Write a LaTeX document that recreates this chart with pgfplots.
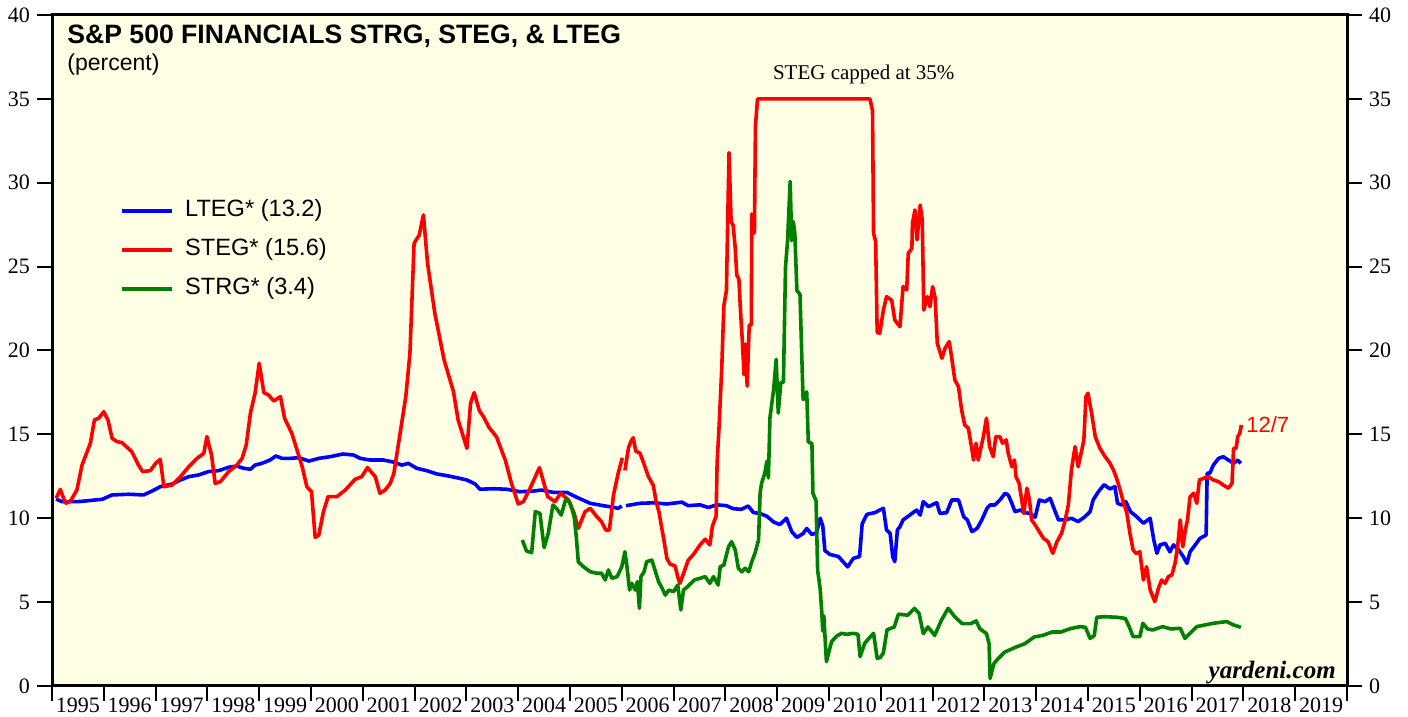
\documentclass[border=0pt]{standalone}
\usepackage{fontspec}
\setmainfont{Liberation Serif}
\setsansfont{Liberation Sans}
\usepackage{pgfplots}
\pgfplotsset{compat=1.18}
\definecolor{bgy}{RGB}{255,255,230}
\definecolor{lteg}{RGB}{0,0,255}
\definecolor{steg}{RGB}{255,0,0}
\definecolor{strg}{RGB}{0,128,0}
\begin{document}
\begin{tikzpicture}
\begin{axis}[
  scale only axis, width=647.5pt, height=335.5pt,
  xmin=1995, xmax=2020, ymin=0, ymax=40,
  axis background/.style={fill=bgy},
  axis line style={line width=1.5pt},
  tick align=outside, major tick length=7.5pt,
  tick style={black, line width=1pt},
  xtick={1995,1996,...,2020}, xticklabels={},
  xtick pos=bottom, ytick pos=left,
  ytick={0,5,...,40},
  /pgf/number format/assume math mode=true,
  tick label style={font=\fontsize{11}{13}\selectfont},
  xticklabel style={yshift=-2.5pt},
  extra x ticks={1995.5,1996.5,1997.5,1998.5,1999.5,2000.5,2001.5,2002.5,2003.5,2004.5,2005.5,2006.5,2007.5,2008.5,2009.5,2010.5,2011.5,2012.5,2013.5,2014.5,2015.5,2016.5,2017.5,2018.5,2019.5},
  extra x tick labels={1995,1996,1997,1998,1999,2000,2001,2002,2003,2004,2005,2006,2007,2008,2009,2010,2011,2012,2013,2014,2015,2016,2017,2018,2019},
  extra x tick style={major tick length=0pt, tick style={draw=none}},
  unbounded coords=jump,
  every axis plot/.append style={line width=1.8pt, line join=round},
  legend style={at={(rel axis cs:0.048,0.731)}, anchor=north west, draw=none, fill=none,
    font=\sffamily\fontsize{11.8}{13}\selectfont, row sep=8.5pt, column sep=5.5pt,
    nodes={inner sep=0pt, text height=8.5pt, text depth=2.5pt}},
  legend cell align=left,
  legend image code/.code={\draw[#1] (0pt,0pt) -- (25pt,0pt);},
]
% LTEG
\addplot[lteg] coordinates {
(1995.08,11.15) (1995.19,10.99) (1995.51,10.99) (1995.97,11.13) (1996.16,11.39) (1996.48,11.43)
(1996.77,11.39) (1996.93,11.62) (1997.09,11.88) (1997.32,12.04) (1997.48,12.28) (1997.64,12.48)
(1997.83,12.58) (1998.02,12.78) (1998.22,12.84) (1998.41,13.04) (1998.57,13.11) (1998.70,12.98)
(1998.83,12.92) (1998.92,13.17) (1999.05,13.27) (1999.21,13.47) (1999.32,13.71) (1999.44,13.57)
(1999.60,13.57) (1999.76,13.61) (1999.96,13.41) (2000.15,13.57) (2000.37,13.67) (2000.62,13.83)
(2000.82,13.77) (2000.95,13.57) (2001.14,13.47) (2001.40,13.47) (2001.62,13.33) (2001.75,13.17)
(2001.88,13.27) (2002.04,12.98) (2002.23,12.84) (2002.43,12.64) (2002.62,12.54) (2002.81,12.42)
(2003.01,12.28) (2003.17,12.04) (2003.26,11.73) (2003.52,11.76) (2003.78,11.73) (2004.03,11.58)
(2004.29,11.62) (2004.45,11.68) (2004.68,11.54) (2004.94,11.54) (2005.13,11.25) (2005.39,10.89)
(2005.64,10.75) (2005.84,10.65) (2005.93,10.59) (2006.00,10.73) (2006.04,nan)
(2006.08,10.75) (2006.16,10.79) (2006.35,10.89) (2006.61,10.92) (2006.87,10.85) (2007.16,10.96)
(2007.28,10.75) (2007.51,10.80) (2007.67,10.64) (2007.83,10.80) (2008.02,10.75) (2008.15,10.57)
(2008.31,10.53) (2008.44,10.73) (2008.54,10.34) (2008.67,10.28) (2008.80,10.12) (2008.93,9.78)
(2009.05,9.62) (2009.18,10.00) (2009.28,9.20) (2009.38,8.86) (2009.50,9.09) (2009.57,9.39)
(2009.67,9.03) (2009.76,9.14) (2009.83,10.00) (2009.88,9.55) (2009.92,8.07) (2010.02,7.84)
(2010.18,7.72) (2010.28,7.38) (2010.36,7.10) (2010.47,7.61) (2010.59,7.72) (2010.64,9.66)
(2010.73,10.23) (2010.89,10.34) (2010.98,10.49) (2011.05,10.59) (2011.11,9.30) (2011.18,9.10)
(2011.23,7.71) (2011.27,7.41) (2011.32,9.30) (2011.37,9.50) (2011.43,9.90) (2011.56,10.19)
(2011.69,10.49) (2011.76,10.19) (2011.82,10.99) (2011.92,10.69) (2012.08,10.93) (2012.14,10.29)
(2012.27,10.33) (2012.37,11.09) (2012.50,11.09) (2012.60,10.09) (2012.67,9.90) (2012.76,9.20)
(2012.86,9.40) (2012.95,9.90) (2013.05,10.59) (2013.11,10.79) (2013.20,10.79) (2013.30,11.09)
(2013.40,11.49) (2013.46,11.39) (2013.53,10.89) (2013.59,10.39) (2013.69,10.49) (2013.78,10.33)
(2013.88,10.29) (2013.98,10.06) (2014.06,11.09) (2014.17,10.99) (2014.27,11.19) (2014.33,10.69)
(2014.43,9.90) (2014.56,9.90) (2014.68,10.00) (2014.81,9.80) (2014.94,10.09) (2015.04,10.39)
(2015.10,11.10) (2015.20,11.58) (2015.31,12.00) (2015.42,11.75) (2015.52,11.88) (2015.57,10.89)
(2015.65,10.79) (2015.73,10.99) (2015.82,10.39) (2015.93,10.12) (2016.07,9.70) (2016.20,10.00)
(2016.27,8.70) (2016.33,7.91) (2016.39,8.41) (2016.49,8.51) (2016.58,8.00) (2016.65,8.41)
(2016.75,8.11) (2016.84,7.71) (2016.91,7.31) (2016.97,8.00) (2017.07,8.41) (2017.16,8.80)
(2017.28,9.00) (2017.30,12.68) (2017.35,12.68) (2017.42,13.17) (2017.52,13.57) (2017.61,13.67)
(2017.71,13.47) (2017.81,13.27) (2017.89,13.47) (2017.95,13.27)
};
\addlegendentry{LTEG* (13.2)}
% STEG
\addplot[steg] coordinates {
(1995.08,11.19) (1995.16,11.72) (1995.26,10.89) (1995.35,10.99) (1995.48,11.68) (1995.58,13.17)
(1995.74,14.47) (1995.82,15.86) (1995.90,15.96) (1996.00,16.35) (1996.08,15.86) (1996.16,14.77)
(1996.25,14.57) (1996.35,14.51) (1996.54,13.97) (1996.67,13.17) (1996.75,12.78) (1996.90,12.84)
(1997.00,13.27) (1997.09,13.51) (1997.16,11.88) (1997.32,11.98) (1997.48,12.48) (1997.64,13.07)
(1997.80,13.57) (1997.93,13.87) (1997.99,14.86) (1998.08,13.77) (1998.15,12.08) (1998.25,12.18)
(1998.41,12.78) (1998.57,13.17) (1998.67,13.57) (1998.75,14.37) (1998.83,16.26) (1998.92,17.45)
(1999.00,19.24) (1999.09,17.49) (1999.18,17.35) (1999.28,16.99) (1999.41,17.25) (1999.49,15.96)
(1999.63,15.06) (1999.73,14.07) (1999.83,13.07) (1999.92,11.88) (2000.01,11.58) (2000.08,8.86)
(2000.15,9.00) (2000.24,10.39) (2000.33,11.29) (2000.50,11.29) (2000.66,11.68) (2000.85,12.32)
(2000.98,12.48) (2001.09,13.02) (2001.24,12.48) (2001.33,11.49) (2001.43,11.68) (2001.53,12.08)
(2001.60,12.68) (2001.72,15.06) (2001.83,17.25) (2001.91,19.83) (2001.99,26.39) (2002.09,26.88)
(2002.17,28.08) (2002.25,25.20) (2002.39,22.22) (2002.57,19.43) (2002.75,17.55) (2002.84,15.86)
(2003.01,14.17) (2003.08,16.85) (2003.15,17.49) (2003.25,16.41) (2003.33,16.05) (2003.44,15.40)
(2003.58,14.86) (2003.75,13.47) (2003.87,12.08) (2004.00,10.85) (2004.10,10.99) (2004.23,11.79)
(2004.41,13.02) (2004.57,11.29) (2004.71,10.99) (2004.82,11.49) (2004.97,11.09) (2005.08,10.29)
(2005.16,9.40) (2005.29,10.39) (2005.39,10.59) (2005.52,10.09) (2005.61,9.79) (2005.69,9.30)
(2005.76,9.30) (2005.84,11.39) (2005.93,12.68) (2006.01,13.60) (2006.035,nan)
(2006.06,12.85) (2006.13,14.22) (2006.18,14.60) (2006.22,14.80) (2006.27,14.00) (2006.35,13.88)
(2006.42,13.31) (2006.51,12.51) (2006.61,11.94) (2006.66,11.03) (2006.72,10.34) (2006.77,9.43)
(2006.81,8.75) (2006.87,7.61) (2006.93,7.27) (2007.03,7.15) (2007.08,6.50) (2007.12,6.12)
(2007.19,6.69) (2007.28,7.49) (2007.38,7.83) (2007.51,8.41) (2007.61,8.75) (2007.70,8.41)
(2007.75,9.54) (2007.82,10.12) (2007.84,13.31) (2007.88,15.60) (2007.93,19.00) (2007.97,22.67)
(2008.02,23.58) (2008.04,27.00) (2008.07,31.79) (2008.11,27.68) (2008.15,27.46) (2008.19,26.09)
(2008.22,24.49) (2008.26,24.26) (2008.29,22.44) (2008.33,20.39) (2008.36,18.56) (2008.39,20.39)
(2008.42,17.87) (2008.46,21.52) (2008.50,21.52) (2008.51,28.14) (2008.56,27.00) (2008.58,33.39)
(2008.62,35.00) (2010.79,35.00) (2010.84,34.30) (2010.86,27.00) (2010.90,26.50) (2010.93,21.07)
(2010.98,21.03) (2011.05,22.41) (2011.11,23.21) (2011.21,23.00) (2011.27,21.82) (2011.37,21.42)
(2011.43,23.81) (2011.50,23.61) (2011.53,25.79) (2011.60,26.09) (2011.61,27.58) (2011.66,28.38)
(2011.70,26.59) (2011.76,28.67) (2011.80,27.78) (2011.83,22.41) (2011.90,23.21) (2011.95,22.61)
(2012.00,23.81) (2012.05,23.11) (2012.09,20.43) (2012.18,19.54) (2012.24,20.13) (2012.32,20.53)
(2012.37,19.54) (2012.43,18.24) (2012.50,17.84) (2012.56,16.45) (2012.62,15.56) (2012.69,15.36)
(2012.75,14.27) (2012.79,13.47) (2012.84,14.47) (2012.88,13.47) (2012.98,14.86) (2013.04,15.96)
(2013.10,14.27) (2013.17,13.67) (2013.22,14.86) (2013.30,14.86) (2013.35,14.47) (2013.42,14.67)
(2013.46,13.87) (2013.53,13.07) (2013.58,13.47) (2013.61,12.48) (2013.67,12.08) (2013.72,11.09)
(2013.76,10.29) (2013.82,11.79) (2013.87,11.09) (2013.91,9.90) (2013.98,9.60) (2014.06,9.20)
(2014.14,8.80) (2014.23,8.60) (2014.32,7.91) (2014.40,8.60) (2014.49,9.10) (2014.56,9.90)
(2014.62,10.79) (2014.68,12.88) (2014.75,14.27) (2014.81,13.07) (2014.88,14.07) (2014.92,14.67)
(2014.96,17.25) (2015.00,17.45) (2015.07,16.26) (2015.14,14.86) (2015.23,14.17) (2015.33,13.67)
(2015.42,13.30) (2015.49,12.88) (2015.55,12.40) (2015.62,11.68) (2015.68,10.99) (2015.75,10.30)
(2015.81,9.10) (2015.87,8.11) (2015.93,7.90) (2016.00,8.00) (2016.07,6.32) (2016.13,7.11)
(2016.20,5.72) (2016.29,5.03) (2016.36,5.82) (2016.42,6.32) (2016.49,6.12) (2016.55,6.52)
(2016.62,6.62) (2016.68,7.31) (2016.73,8.30) (2016.78,9.90) (2016.83,8.30) (2016.88,9.30)
(2016.92,9.90) (2016.97,11.28) (2017.04,11.49) (2017.10,10.89) (2017.15,12.28) (2017.23,12.38)
(2017.32,12.48) (2017.42,12.28) (2017.52,12.18) (2017.61,11.98) (2017.71,11.79) (2017.78,12.08)
(2017.81,14.17) (2017.86,14.17) (2017.89,14.86) (2017.93,15.06) (2017.96,15.56)
};
\addlegendentry{STEG* (15.6)}
% STRG
\addplot[strg] coordinates {
(2004.08,8.70) (2004.16,8.05) (2004.26,7.95) (2004.33,10.39) (2004.42,10.29) (2004.50,8.25)
(2004.58,9.10) (2004.67,10.79) (2004.74,10.59) (2004.83,10.19) (2004.92,11.15) (2005.00,10.92)
(2005.08,10.10) (2005.12,8.95) (2005.16,7.40) (2005.26,7.11) (2005.39,6.81) (2005.52,6.72)
(2005.61,6.72) (2005.68,6.32) (2005.74,6.92) (2005.81,6.42) (2005.91,6.52) (2006.00,7.11)
(2006.06,8.00) (2006.10,7.11) (2006.15,5.72) (2006.19,6.12) (2006.26,5.72) (2006.30,6.22)
(2006.34,4.63) (2006.37,6.52) (2006.43,6.81) (2006.48,7.41) (2006.58,7.51) (2006.65,6.81)
(2006.71,6.22) (2006.78,5.82) (2006.84,5.42) (2006.91,5.72) (2007.00,5.62) (2007.08,6.02)
(2007.14,4.53) (2007.19,5.72) (2007.27,5.92) (2007.40,6.32) (2007.51,6.42) (2007.61,6.52)
(2007.70,6.12) (2007.77,6.52) (2007.86,6.02) (2007.90,7.11) (2007.97,7.21) (2008.06,8.30)
(2008.12,8.60) (2008.19,8.11) (2008.25,7.02) (2008.32,6.81) (2008.38,7.02) (2008.45,6.81)
(2008.51,7.41) (2008.57,7.91) (2008.64,8.70) (2008.67,11.50) (2008.70,12.10) (2008.76,12.68)
(2008.80,13.40) (2008.83,12.40) (2008.86,16.00) (2008.93,17.65) (2008.98,19.47) (2009.02,16.27)
(2009.07,18.10) (2009.12,18.10) (2009.16,24.95) (2009.20,26.55) (2009.25,30.08) (2009.28,26.55)
(2009.31,27.68) (2009.34,27.00) (2009.38,23.58) (2009.44,23.35) (2009.47,20.15) (2009.50,17.07)
(2009.57,17.53) (2009.60,14.56) (2009.67,14.45) (2009.69,11.49) (2009.75,11.03) (2009.78,6.92)
(2009.83,5.78) (2009.86,4.41) (2009.88,3.27) (2009.90,4.18) (2009.95,1.45) (2010.00,2.05)
(2010.05,2.65) (2010.15,2.98) (2010.24,3.14) (2010.34,3.08) (2010.47,3.14) (2010.56,3.08)
(2010.60,1.75) (2010.69,2.55) (2010.76,2.80) (2010.86,3.14) (2010.93,1.65) (2010.99,1.70)
(2011.05,1.98) (2011.12,3.35) (2011.26,3.52) (2011.34,4.28) (2011.52,4.22) (2011.65,4.63)
(2011.74,4.32) (2011.82,3.12) (2011.91,3.52) (2012.04,3.02) (2012.17,3.92) (2012.30,4.63)
(2012.43,4.12) (2012.57,3.72) (2012.74,3.72) (2012.84,3.88) (2012.91,3.42) (2013.04,3.12)
(2013.09,2.52) (2013.11,0.45) (2013.18,1.31) (2013.26,1.62) (2013.39,2.02) (2013.61,2.32)
(2013.78,2.52) (2013.96,2.92) (2014.13,3.02) (2014.31,3.22) (2014.48,3.22) (2014.66,3.42)
(2014.85,3.54) (2014.95,3.50) (2015.04,2.84) (2015.12,3.00) (2015.17,4.10) (2015.33,4.13)
(2015.55,4.10) (2015.72,4.03) (2015.80,3.50) (2015.87,2.94) (2016.00,2.94) (2016.06,3.74)
(2016.15,3.40) (2016.25,3.34) (2016.44,3.54) (2016.60,3.40) (2016.78,3.44) (2016.87,2.84)
(2017.10,3.54) (2017.42,3.74) (2017.68,3.84) (2017.80,3.65) (2017.95,3.50)
};
\addlegendentry{STRG* (3.4)}
\node[anchor=base west, inner sep=0pt, font=\sffamily\bfseries\fontsize{13.3}{15}\selectfont]
  at (rel axis cs:0.0116,0.957) {S\&P 500 FINANCIALS STRG, STEG, \& LTEG};
\node[anchor=base west, inner sep=0pt, font=\sffamily\fontsize{11.5}{13}\selectfont]
  at (rel axis cs:0.0116,0.918) {(percent)};
\node[anchor=base, inner sep=0pt, font=\fontsize{10.5}{12}\selectfont]
  at (axis cs:2010.67,36.16) {STEG capped at 35\%};
\node[anchor=west, inner sep=0pt, text=steg, font=\sffamily\fontsize{11}{13}\selectfont]
  at (axis cs:2018.05,15.6) {12/7};
\node[anchor=base east, inner sep=0pt, font=\bfseries\itshape\fontsize{12.5}{14}\selectfont]
  at (axis cs:2019.79,0.45) {yardeni.com};
\end{axis}
\begin{axis}[
  scale only axis, width=647.5pt, height=335.5pt,
  xmin=1995, xmax=2020, ymin=0, ymax=40,
  hide x axis, axis line style={draw=none},
  tick align=outside, major tick length=7.5pt,
  tick style={black, line width=1pt},
  ytick={0,5,...,40}, ytick pos=right, yticklabel pos=right,
  /pgf/number format/assume math mode=true,
  tick label style={font=\fontsize{11}{13}\selectfont},
]
\end{axis}
\pgfresetboundingbox
\path[use as bounding box] (-26pt,-15.5pt) rectangle (678pt,343pt);
\end{tikzpicture}
\end{document}
